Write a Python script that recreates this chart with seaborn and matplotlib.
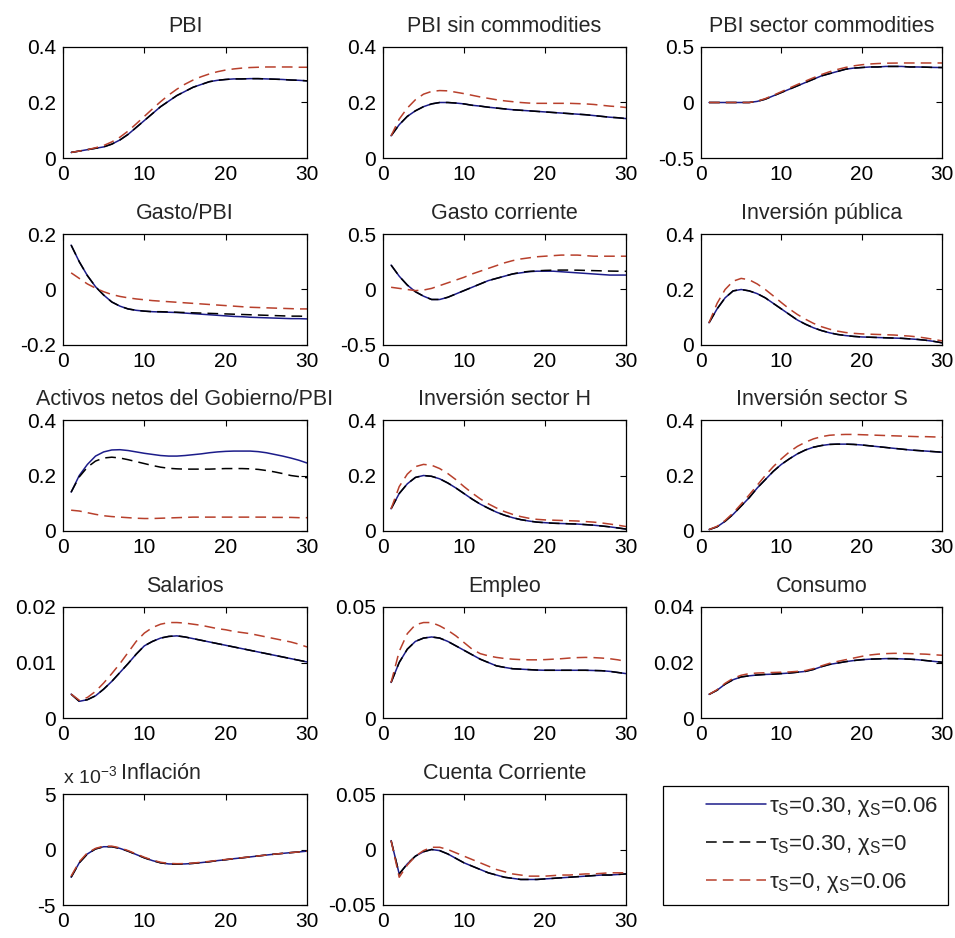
import numpy as np
import pandas as pd
import matplotlib
matplotlib.use('Agg')
import matplotlib.pyplot as plt
from matplotlib.ticker import FuncFormatter
from matplotlib.lines import Line2D
from matplotlib.patches import Rectangle
import seaborn as sns

t = list(range(1, 31))

titles = ["PBI", "PBI sin commodities", "PBI sector commodities",
          "Gasto/PBI", "Gasto corriente", "Inversión pública",
          "Activos netos del Gobierno/PBI", "Inversión sector H", "Inversión sector S",
          "Salarios", "Empleo", "Consumo",
          "Inflación", "Cuenta Corriente"]

legend_labels = [r"τ$_\mathrm{S}$=0.30, χ$_\mathrm{S}$=0.06",
                 r"τ$_\mathrm{S}$=0.30, χ$_\mathrm{S}$=0",
                 r"τ$_\mathrm{S}$=0, χ$_\mathrm{S}$=0.06"]

# base: tau_S=0.30 chi_S=0.06 | chi0: tau_S=0.30 chi_S=0 | tau0: tau_S=0 chi_S=0.06
pbi_base = [0.02, 0.025, 0.03, 0.035, 0.04, 0.05, 0.065, 0.085, 0.11, 0.135, 0.16, 0.185, 0.205, 0.225, 0.24,
            0.255, 0.265, 0.275, 0.28, 0.283, 0.285, 0.285, 0.286, 0.286, 0.285, 0.284, 0.283, 0.281, 0.28, 0.278]
pbi_chi0 = pbi_base
pbi_tau0 = [0.02, 0.025, 0.03, 0.037, 0.045, 0.058, 0.075, 0.097, 0.123, 0.15, 0.177, 0.203, 0.227, 0.248, 0.266,
            0.281, 0.293, 0.303, 0.311, 0.317, 0.321, 0.324, 0.326, 0.327, 0.328, 0.328, 0.328, 0.328, 0.327, 0.327]

pbisc_base = [0.08, 0.12, 0.15, 0.17, 0.185, 0.195, 0.2, 0.2, 0.198, 0.195, 0.19, 0.187, 0.183, 0.18, 0.177,
              0.174, 0.172, 0.17, 0.168, 0.166, 0.164, 0.162, 0.16, 0.158, 0.156, 0.153, 0.15, 0.147, 0.145, 0.142]
pbisc_chi0 = pbisc_base
pbisc_tau0 = [0.08, 0.14, 0.18, 0.21, 0.23, 0.24, 0.243, 0.242, 0.237, 0.232, 0.226, 0.22, 0.215, 0.21, 0.206,
              0.203, 0.2, 0.198, 0.197, 0.197, 0.197, 0.197, 0.197, 0.196, 0.195, 0.193, 0.19, 0.187, 0.185, 0.182]

pbic_base = [0, 0, 0, 0, 0, 0, 0.01, 0.03, 0.06, 0.09, 0.12, 0.15, 0.18, 0.21, 0.24,
             0.26, 0.28, 0.3, 0.31, 0.315, 0.32, 0.32, 0.325, 0.325, 0.325, 0.32, 0.32, 0.318, 0.316, 0.315]
pbic_chi0 = pbic_base
pbic_tau0 = [0, 0, 0, 0, 0, 0, 0.012, 0.035, 0.065, 0.097, 0.13, 0.162, 0.193, 0.223, 0.252,
             0.277, 0.298, 0.316, 0.33, 0.34, 0.347, 0.351, 0.354, 0.355, 0.356, 0.356, 0.356, 0.356, 0.356, 0.356]

gpbi_base = [0.16, 0.1, 0.05, 0.01, -0.02, -0.045, -0.06, -0.07, -0.075, -0.078, -0.08, -0.081, -0.082, -0.083, -0.085,
             -0.087, -0.089, -0.091, -0.093, -0.095, -0.097, -0.098, -0.1, -0.101, -0.102, -0.103, -0.104, -0.105, -0.105, -0.106]
gpbi_chi0 = [0.16, 0.1, 0.05, 0.01, -0.02, -0.045, -0.06, -0.07, -0.075, -0.078, -0.08, -0.08, -0.081, -0.082, -0.083,
             -0.084, -0.085, -0.086, -0.087, -0.088, -0.089, -0.09, -0.091, -0.092, -0.093, -0.094, -0.095, -0.096, -0.096, -0.097]
gpbi_tau0 = [0.06, 0.04, 0.02, 0.005, -0.008, -0.018, -0.025, -0.03, -0.034, -0.037, -0.04, -0.042, -0.044, -0.046, -0.048,
             -0.05, -0.052, -0.054, -0.056, -0.058, -0.06, -0.062, -0.064, -0.065, -0.066, -0.067, -0.068, -0.069, -0.07, -0.07]

gc_base = [0.22, 0.12, 0.04, -0.02, -0.06, -0.09, -0.09, -0.07, -0.04, -0.01, 0.02, 0.05, 0.08, 0.1, 0.12,
           0.14, 0.15, 0.16, 0.165, 0.165, 0.165, 0.16, 0.155, 0.15, 0.145, 0.14, 0.135, 0.13, 0.13, 0.13]
gc_chi0 = [0.22, 0.12, 0.04, -0.02, -0.06, -0.09, -0.09, -0.07, -0.04, -0.01, 0.02, 0.05, 0.08, 0.1, 0.12,
           0.14, 0.155, 0.163, 0.168, 0.172, 0.174, 0.175, 0.175, 0.174, 0.172, 0.17, 0.168, 0.166, 0.165, 0.164]
gc_tau0 = [0.02, 0.01, 0.0, -0.01, -0.005, 0.01, 0.035, 0.06, 0.085, 0.11, 0.14, 0.165, 0.19, 0.215, 0.24,
           0.26, 0.275, 0.285, 0.295, 0.3, 0.305, 0.31, 0.31, 0.31, 0.305, 0.3, 0.3, 0.3, 0.3, 0.3]

ip_base = [0.08, 0.13, 0.17, 0.195, 0.2, 0.195, 0.185, 0.17, 0.15, 0.13, 0.11, 0.09, 0.075, 0.062, 0.052,
           0.044, 0.038, 0.034, 0.031, 0.029, 0.028, 0.027, 0.026, 0.025, 0.024, 0.022, 0.02, 0.017, 0.013, 0.008]
ip_chi0 = ip_base
ip_tau0 = [0.08, 0.15, 0.2, 0.23, 0.24, 0.235, 0.22, 0.2, 0.177, 0.153, 0.13, 0.11, 0.093, 0.078, 0.066,
           0.057, 0.05, 0.045, 0.042, 0.04, 0.039, 0.038, 0.037, 0.036, 0.034, 0.032, 0.029, 0.025, 0.02, 0.015]

an_base = [0.14, 0.2, 0.24, 0.27, 0.285, 0.292, 0.293, 0.29, 0.285, 0.28, 0.276, 0.272, 0.27, 0.27, 0.272,
           0.275, 0.278, 0.282, 0.285, 0.287, 0.288, 0.288, 0.288, 0.286, 0.282, 0.276, 0.27, 0.263, 0.255, 0.245]
an_chi0 = [0.14, 0.195, 0.23, 0.252, 0.263, 0.266, 0.263, 0.257, 0.25, 0.243, 0.236, 0.23, 0.226, 0.224, 0.223,
           0.223, 0.223, 0.223, 0.224, 0.225, 0.225, 0.225, 0.224, 0.222, 0.218, 0.213, 0.207, 0.2, 0.196, 0.192]
an_tau0 = [0.075, 0.072, 0.066, 0.06, 0.055, 0.052, 0.05, 0.048, 0.046, 0.045, 0.045, 0.046, 0.047, 0.048, 0.049,
           0.05, 0.05, 0.05, 0.05, 0.05, 0.05, 0.05, 0.05, 0.05, 0.05, 0.049, 0.049, 0.049, 0.048, 0.048]

ih_base = [0.08, 0.135, 0.17, 0.193, 0.2, 0.197, 0.188, 0.173, 0.155, 0.135, 0.115, 0.097, 0.082, 0.068, 0.057,
           0.048, 0.041, 0.036, 0.032, 0.03, 0.028, 0.027, 0.026, 0.025, 0.023, 0.021, 0.018, 0.015, 0.011, 0.007]
ih_chi0 = ih_base
ih_tau0 = [0.08, 0.16, 0.205, 0.232, 0.24, 0.237, 0.225, 0.207, 0.185, 0.16, 0.137, 0.116, 0.098, 0.083, 0.07,
           0.06, 0.052, 0.046, 0.042, 0.04, 0.039, 0.038, 0.037, 0.036, 0.034, 0.032, 0.029, 0.025, 0.021, 0.016]

is_base = [0.005, 0.015, 0.035, 0.06, 0.09, 0.12, 0.155, 0.185, 0.215, 0.24, 0.26, 0.278, 0.292, 0.302, 0.308,
           0.312, 0.313, 0.313, 0.312, 0.31, 0.307, 0.304, 0.301, 0.298, 0.295, 0.292, 0.29, 0.288, 0.286, 0.284]
is_chi0 = is_base
is_tau0 = [0.005, 0.017, 0.038, 0.065, 0.097, 0.13, 0.165, 0.2, 0.232, 0.26, 0.285, 0.305, 0.32, 0.332, 0.34,
           0.345, 0.347, 0.348, 0.348, 0.347, 0.346, 0.345, 0.344, 0.343, 0.342, 0.341, 0.34, 0.34, 0.339, 0.338]

sal_base = [0.0043, 0.003, 0.0033, 0.004, 0.0052, 0.0066, 0.0082, 0.0098, 0.0115, 0.013, 0.0138, 0.0144, 0.0147, 0.0148, 0.0146,
            0.0143, 0.014, 0.0137, 0.0134, 0.0131, 0.0128, 0.0125, 0.0122, 0.0119, 0.0116, 0.0113, 0.011, 0.0107, 0.0104, 0.0101]
sal_chi0 = sal_base
sal_tau0 = [0.0043, 0.0032, 0.0037, 0.0048, 0.0063, 0.008, 0.0098, 0.0118, 0.0138, 0.0153, 0.0163, 0.0169, 0.0172, 0.0172, 0.0171,
            0.0169, 0.0167, 0.0164, 0.0161, 0.0159, 0.0156, 0.0154, 0.0152, 0.0149, 0.0146, 0.0143, 0.014, 0.0137, 0.0133, 0.0128]

emp_base = [0.016, 0.025, 0.031, 0.0345, 0.036, 0.0365, 0.036, 0.0345, 0.0325, 0.0305, 0.0285, 0.0265, 0.025, 0.0235, 0.0228,
            0.0222, 0.022, 0.0218, 0.0216, 0.0215, 0.0215, 0.0215, 0.0215, 0.0215, 0.0215, 0.0214, 0.0213, 0.021, 0.0205, 0.02]
emp_chi0 = emp_base
emp_tau0 = [0.016, 0.03, 0.038, 0.042, 0.043, 0.043, 0.0415, 0.0395, 0.037, 0.034, 0.031, 0.029, 0.028, 0.0273, 0.0268,
            0.0265, 0.0263, 0.0262, 0.0262, 0.0263, 0.0265, 0.0267, 0.027, 0.0272, 0.0273, 0.0272, 0.027, 0.0267, 0.0262, 0.0255]

con_base = [0.0085, 0.01, 0.0122, 0.0138, 0.0148, 0.0152, 0.0155, 0.0157, 0.0158, 0.016, 0.0162, 0.0165, 0.0168, 0.0175, 0.0185,
            0.0193, 0.0198, 0.0203, 0.0207, 0.021, 0.0212, 0.0213, 0.0214, 0.0214, 0.0213, 0.0212, 0.021, 0.0207, 0.0204, 0.0201]
con_chi0 = con_base
con_tau0 = [0.0085, 0.0102, 0.0125, 0.0143, 0.0154, 0.016, 0.0162, 0.0163, 0.0164, 0.0165, 0.0166, 0.0168, 0.0171, 0.0178, 0.0188,
            0.0197, 0.0204, 0.021, 0.0216, 0.0222, 0.0227, 0.023, 0.0232, 0.0233, 0.0233, 0.0232, 0.0231, 0.023, 0.0228, 0.0226]

# inflation in units of 10^-3
inf_base = [-2.5, -1.2, -0.4, 0.05, 0.25, 0.25, 0.1, -0.15, -0.45, -0.75, -1.0, -1.2, -1.3, -1.32, -1.3,
            -1.25, -1.18, -1.1, -1.0, -0.92, -0.83, -0.75, -0.67, -0.58, -0.5, -0.42, -0.35, -0.28, -0.22, -0.15]
inf_chi0 = inf_base
inf_tau0 = [-2.4, -1.1, -0.3, 0.1, 0.3, 0.3, 0.15, -0.1, -0.4, -0.7, -0.95, -1.15, -1.25, -1.28, -1.27,
            -1.22, -1.15, -1.07, -0.98, -0.9, -0.82, -0.74, -0.66, -0.58, -0.5, -0.42, -0.35, -0.28, -0.22, -0.16]

cc_base = [0.008, -0.022, -0.013, -0.006, -0.002, 0.0, -0.001, -0.004, -0.008, -0.012, -0.015, -0.018, -0.021, -0.023, -0.025,
           -0.026, -0.027, -0.027, -0.027, -0.0265, -0.026, -0.0255, -0.025, -0.0245, -0.024, -0.0235, -0.023, -0.023, -0.0225, -0.022]
cc_chi0 = cc_base
cc_tau0 = [0.008, -0.025, -0.014, -0.006, -0.001, 0.002, 0.002, 0.0, -0.003, -0.006, -0.009, -0.012, -0.015, -0.018, -0.02,
           -0.022, -0.023, -0.024, -0.024, -0.024, -0.0235, -0.023, -0.023, -0.0225, -0.022, -0.022, -0.0215, -0.021, -0.021, -0.021]

series = [(pbi_base, pbi_chi0, pbi_tau0), (pbisc_base, pbisc_chi0, pbisc_tau0), (pbic_base, pbic_chi0, pbic_tau0),
          (gpbi_base, gpbi_chi0, gpbi_tau0), (gc_base, gc_chi0, gc_tau0), (ip_base, ip_chi0, ip_tau0),
          (an_base, an_chi0, an_tau0), (ih_base, ih_chi0, ih_tau0), (is_base, is_chi0, is_tau0),
          (sal_base, sal_chi0, sal_tau0), (emp_base, emp_chi0, emp_tau0), (con_base, con_chi0, con_tau0),
          (inf_base, inf_chi0, inf_tau0), (cc_base, cc_chi0, cc_tau0)]

yticks = [[0, 0.2, 0.4], [0, 0.2, 0.4], [-0.5, 0, 0.5],
          [-0.2, 0, 0.2], [-0.5, 0, 0.5], [0, 0.2, 0.4],
          [0, 0.2, 0.4], [0, 0.2, 0.4], [0, 0.2, 0.4],
          [0, 0.01, 0.02], [0, 0.05], [0, 0.02, 0.04],
          [-5, 0, 5], [-0.05, 0, 0.05]]

xticks = [0, 10, 20, 30]

sns.set_style("white")
plt.rcParams['font.family'] = ['Liberation Sans', 'DejaVu Sans']
plt.rcParams['mathtext.fontset'] = 'custom'
plt.rcParams['mathtext.rm'] = 'Liberation Sans'
plt.rcParams['xtick.direction'] = 'in'
plt.rcParams['ytick.direction'] = 'in'
plt.rcParams['xtick.top'] = True
plt.rcParams['ytick.right'] = True

colors = ['#1c1c8a', 'black', '#b8402c']
styles = ['-', (0, (7, 4)), (0, (7, 4))]
fs_title = 15.5
fs_tick = 15

W, H = 955, 938
fig = plt.figure(figsize=(W / 100, H / 100), dpi=100)
col_left = [63, 383, 701]
col_width = [244, 243, 241]
row_top = [47, 234, 420, 607, 794]
ah = 111

for i, (title, ser, yt) in enumerate(zip(titles, series, yticks)):
    r, c = divmod(i, 3)
    ax = fig.add_axes([col_left[c] / W, 1 - (row_top[r] + ah) / H, col_width[c] / W, ah / H])
    for vals, col, ls in zip(ser, colors, styles):
        df = pd.DataFrame({'t': t, 'v': vals})
        sns.lineplot(data=df, x='t', y='v', ax=ax, color=col, linestyle=ls, linewidth=1.1)
    ax.set_xlim(0, 30)
    ax.set_ylim(yt[0], yt[-1])
    ax.set_xticks(xticks)
    ax.set_yticks(yt)
    ax.yaxis.set_major_formatter(FuncFormatter(lambda v, p: '%g' % v))
    ax.tick_params(labelsize=fs_tick, length=4, width=0.8, colors='black', pad=5)
    ax.set_xlabel('')
    ax.set_ylabel('')
    for s in ax.spines.values():
        s.set_color('black')
        s.set_linewidth(0.9)
    if title == "Inflación":
        ax.set_title(title, fontsize=fs_title, pad=11, x=0.4)
        ax.text(0.0, 1.05, r'x 10$^{-3}$', transform=ax.transAxes, fontsize=fs_tick - 1,
                ha='left', va='bottom')
    else:
        ax.set_title(title, fontsize=fs_title, pad=11)

# legend frame drawn as a plain box, entries placed inside it
fig.patches.append(Rectangle((663 / W, 1 - 905 / H), (948 - 663) / W, (905 - 786) / H,
                             transform=fig.transFigure, fill=True, facecolor='white',
                             edgecolor='black', linewidth=0.9, zorder=5))
handles = [Line2D([0], [0], color=col, linestyle=ls, linewidth=1.1) for col, ls in zip(colors, styles)]
leg = fig.legend(handles, legend_labels, loc='center left',
                 bbox_to_anchor=(695 / W, 1 - 845 / H),
                 fontsize=16, frameon=False,
                 handlelength=2.7, labelspacing=0.62, handletextpad=0.15, borderpad=0.0)
leg.set_zorder(6)

fig.savefig("out.png", dpi=100)
plt.close()
